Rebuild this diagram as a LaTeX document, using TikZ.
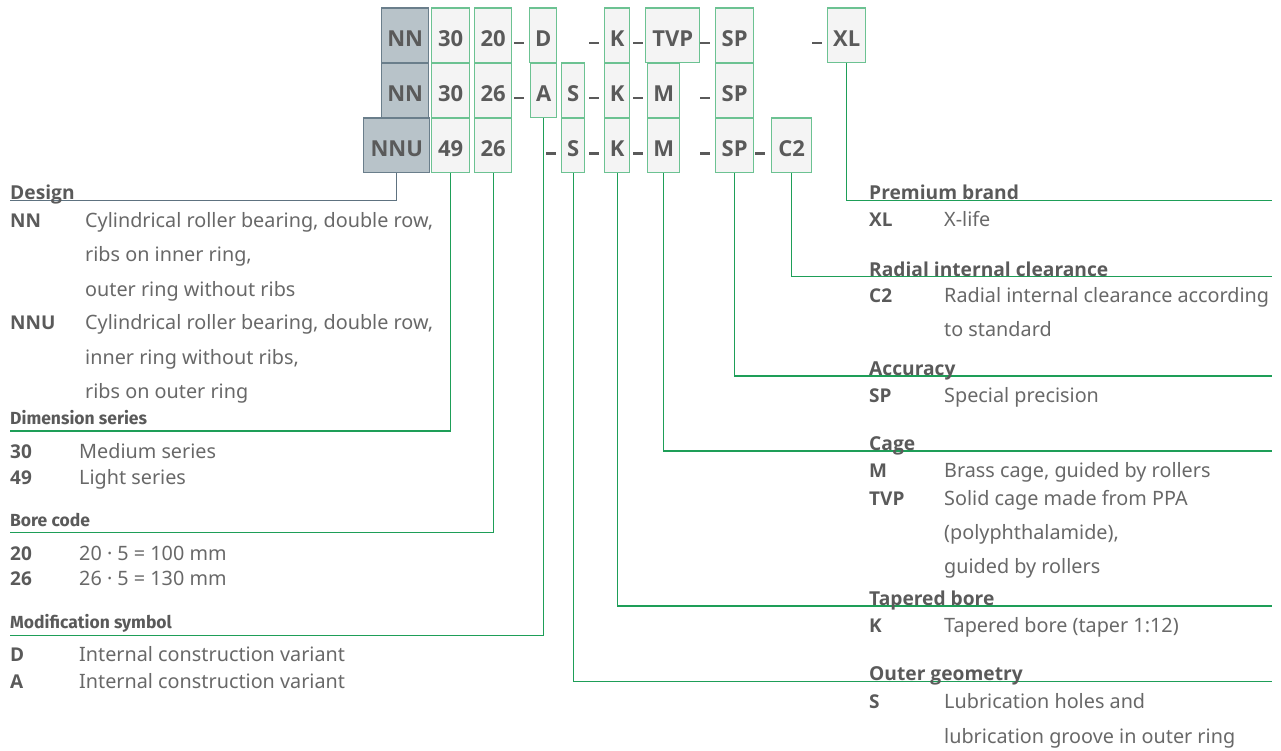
\documentclass[tikz,border=0pt]{standalone}
\usepackage{fontspec}
\setmainfont{Noto Sans}
\newfontfamily\fira{Fira Sans}
\newfontfamily\osans{Open Sans}
\definecolor{boxgreen}{HTML}{6CC292}
\definecolor{linegreen}{HTML}{1E9E58}
\definecolor{boxfill}{HTML}{F4F4F4}
\definecolor{grayfill}{HTML}{B8C3C9}
\definecolor{grayedge}{HTML}{6A7E8B}
\definecolor{slate}{HTML}{5E7280}
\definecolor{txt}{HTML}{5A5A5A}
\definecolor{txtlight}{HTML}{686868}
\tikzset{
  cbox/.style={draw=boxgreen, fill=boxfill, line width=1.4pt, anchor=north west, inner sep=0pt,
     minimum height=54.5pt, text height=22pt, text depth=0pt, font=\fontsize{22}{22}\selectfont\osans\bfseries, text=txt},
  gbox/.style={cbox, draw=grayedge, fill=grayfill},
  conn/.style={draw=linegreen, line width=1.3pt},
  dconn/.style={draw=slate, line width=1.3pt},
  hdr/.style={anchor=base west, inner sep=0pt, font=\fontsize{19.2}{19.2}\selectfont\osans\bfseries, text=txt},
  fhdr/.style={anchor=base west, inner sep=0pt, font=\fontsize{17.5}{17.5}\selectfont\fira\bfseries, text=txt},
  code/.style={anchor=base west, inner sep=0pt, font=\fontsize{19}{19}\selectfont\osans\bfseries, text=txt},
  desc/.style={anchor=base west, inner sep=0pt, font=\fontsize{19.8}{19.8}\selectfont, text=txtlight},
  dashbar/.style={fill=txt}
}
\begin{document}
\begin{tikzpicture}[x=1pt,y=-1pt]
\useasboundingbox (0,0) rectangle (1281,751);
% ---------- row 1
\node[gbox, minimum width=47pt] (r1nn) at (381,7.5) {NN};
\node[cbox, minimum width=38pt] (r1a) at (431,7.5) {30};
\node[cbox, minimum width=37pt] (r1b) at (474,7.5) {20};
\node[cbox, minimum width=27pt] (r1d) at (529,7.5) {D};
\node[cbox, minimum width=25pt] (r1k) at (604,7.5) {K};
\node[cbox, minimum width=54pt] (r1tvp) at (645,7.5) {TVP};
\node[cbox, minimum width=38pt] (r1sp) at (715,7.5) {SP};
\node[cbox, minimum width=38pt] (r1xl) at (827,7.5) {XL};
% ---------- row 2
\node[gbox, minimum width=47pt] (r2nn) at (381,62.5) {NN};
\node[cbox, minimum width=38pt] (r2a) at (431,62.5) {30};
\node[cbox, minimum width=37pt] (r2b) at (474,62.5) {26};
\node[cbox, minimum width=26pt] (r2mod) at (530,62.5) {A};
\node[cbox, minimum width=23pt] (r2s) at (561,62.5) {S};
\node[cbox, minimum width=25pt] (r2k) at (604,62.5) {K};
\node[cbox, minimum width=32pt] (r2m) at (647,62.5) {M};
\node[cbox, minimum width=38pt] (r2sp) at (715,62.5) {SP};
% ---------- row 3
\node[gbox, minimum width=66pt] (r3nnu) at (363,117.5) {NNU};
\node[cbox, minimum width=38pt] (r3a) at (431,117.5) {49};
\node[cbox, minimum width=37pt] (r3b) at (474,117.5) {26};
\node[cbox, minimum width=23pt] (r3s) at (561,117.5) {S};
\node[cbox, minimum width=25pt] (r3k) at (604,117.5) {K};
\node[cbox, minimum width=32pt] (r3m) at (647,117.5) {M};
\node[cbox, minimum width=38pt] (r3sp) at (715,117.5) {SP};
\node[cbox, minimum width=40pt] (r3c) at (771,117.5) {C2};
% ---------- dashes
\foreach \x in {514,589,633,700,812} {\fill[dashbar] (\x,41.8) rectangle ++(10,2.4);}
\foreach \x in {514,589,633,700} {\fill[dashbar] (\x,96.8) rectangle ++(10,2.4);}
\foreach \x in {546,589,633,700,755} {\fill[dashbar] (\x,152.3) rectangle ++(10,2.4);}
% ---------- connector ends
\coordinate (eDesign) at (10,200.7);
\coordinate (eDim) at (10,431);
\coordinate (eBore) at (10,532.7);
\coordinate (eMod) at (10,635.3);
\coordinate (ePrem) at (1272,200.7);
\coordinate (eRad) at (1272,276.7);
\coordinate (eAcc) at (1272,376);
\coordinate (eCage) at (1272,451);
\coordinate (eTap) at (1272,606);
\coordinate (eOut) at (1272,681.3);
\draw[dconn] (r3nnu.south) |- (eDesign);
\draw[conn] (r3a.south) |- (eDim);
\draw[conn] (r3b.south) |- (eBore);
\draw[conn] (r2mod.south) |- (eMod);
\draw[conn] (r1xl.south) |- (ePrem);
\draw[conn] (r3c.south) |- (eRad);
\draw[conn] (r3sp.south) |- (eAcc);
\draw[conn] (r3m.south) |- (eCage);
\draw[conn] (r3k.south) |- (eTap);
\draw[conn] (r3s.south) |- (eOut);
% ---------- left texts
\node[hdr] (hDesign) at (10,200) {Design};
\node[code] (cNN) at (10,227.3) {NN};
\node[desc] (dNN1) at (85,227.3) {Cylindrical roller bearing, double row,};
\node[desc] (dNN2) at (85,261.7) {ribs on inner ring,};
\node[desc] (dNN3) at (85,296) {outer ring without ribs};
\node[code] (cNNU) at (10,329.3) {NNU};
\node[desc] (dNNU1) at (85,329.3) {Cylindrical roller bearing, double row,};
\node[desc] (dNNU2) at (85,364.3) {inner ring without ribs,};
\node[desc] (dNNU3) at (85,398.3) {ribs on outer ring};
\node[fhdr] (hDim) at (10,424) {Dimension series};
\node[code] (c30) at (10,458.3) {30};
\node[desc] (d30) at (79,458.3) {Medium series};
\node[code] (c49) at (10,484) {49};
\node[desc] (d49) at (79,484) {Light series};
\node[fhdr] (hBore) at (10,526) {Bore code};
\node[code] (c20) at (10,560) {20};
\node[desc] (d20) at (79,560) {20 · 5 = 100 mm};
\node[code] (c26) at (10,585.7) {26};
\node[desc] (d26) at (79,585.7) {26 · 5 = 130 mm};
\node[fhdr] (hMod) at (10,628.3) {Modification symbol};
\node[code] (cD) at (10,661.7) {D};
\node[desc] (dD) at (79,661.7) {Internal construction variant};
\node[code] (cA) at (10,688.3) {A};
\node[desc] (dA) at (79,688.3) {Internal construction variant};
% ---------- right texts
\node[hdr] (hPrem) at (869,200) {Premium brand};
\node[code] (cXL) at (869,226.7) {XL};
\node[desc] (dXL) at (944,226.7) {X-life};
\node[hdr] (hRad) at (869,276) {Radial internal clearance};
\node[code] (cC2) at (869,302.7) {C2};
\node[desc] (dC2a) at (944,302.7) {Radial internal clearance according};
\node[desc] (dC2b) at (944,336.7) {to standard};
\node[hdr] (hAcc) at (869,375.5) {Accuracy};
\node[code] (cSP) at (869,402.7) {SP};
\node[desc] (dSP) at (944,402.7) {Special precision};
\node[hdr] (hCage) at (869,450.5) {Cage};
\node[code] (cM) at (869,477.7) {M};
\node[desc] (dM) at (944,477.7) {Brass cage, guided by rollers};
\node[code] (cTVP) at (869,505) {TVP};
\node[desc] (dTVP1) at (944,505) {Solid cage made from PPA};
\node[desc] (dTVP2) at (944,539.3) {(polyphthalamide),};
\node[desc] (dTVP3) at (944,573.3) {guided by rollers};
\node[hdr] (hTap) at (869,605.5) {Tapered bore};
\node[code] (cK) at (869,632.7) {K};
\node[desc] (dK) at (944,632.7) {Tapered bore (taper 1:12)};
\node[hdr] (hOut) at (869,680.8) {Outer geometry};
\node[code] (cS) at (869,708.3) {S};
\node[desc] (dS1) at (944,708.3) {Lubrication holes and};
\node[desc] (dS2) at (944,743.3) {lubrication groove in outer ring};
\end{tikzpicture}
\end{document}
